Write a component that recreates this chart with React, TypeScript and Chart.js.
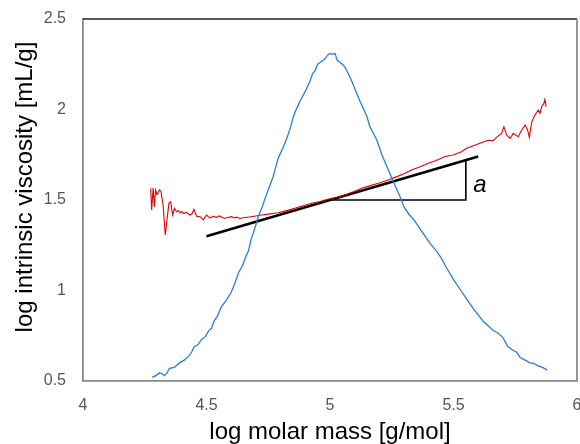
import React, { useEffect, useRef } from "react";
import { Chart, registerables } from "chart.js";
Chart.register(...registerables);

const redX = [4.274, 4.278, 4.284, 4.289, 4.294, 4.3, 4.31, 4.316, 4.325, 4.333, 4.34, 4.348, 4.355, 4.363, 4.37, 4.379, 4.386, 4.393, 4.4, 4.406, 4.42, 4.433, 4.442, 4.449, 4.46, 4.474, 4.487, 4.5, 4.514, 4.527, 4.541, 4.551, 4.561, 4.572, 4.582, 4.602, 4.612, 4.622, 4.636, 4.649, 4.673, 4.7, 4.723, 4.75, 4.79, 4.82, 4.858, 4.89, 4.926, 4.96, 4.99, 5.03, 5.06, 5.095, 5.128, 5.16, 5.196, 5.23, 5.263, 5.3, 5.33, 5.365, 5.398, 5.43, 5.466, 5.498, 5.533, 5.553, 5.58, 5.607, 5.64, 5.66, 5.68, 5.695, 5.704, 5.715, 5.729, 5.742, 5.762, 5.776, 5.79, 5.8, 5.807, 5.817, 5.83, 5.843, 5.85, 5.857, 5.866, 5.87, 5.875];
const redY = [1.565, 1.445, 1.566, 1.463, 1.555, 1.53, 1.555, 1.546, 1.463, 1.307, 1.39, 1.483, 1.49, 1.417, 1.454, 1.435, 1.442, 1.428, 1.437, 1.426, 1.43, 1.417, 1.425, 1.449, 1.41, 1.408, 1.39, 1.417, 1.4, 1.41, 1.404, 1.412, 1.406, 1.398, 1.402, 1.408, 1.401, 1.405, 1.398, 1.402, 1.406, 1.412, 1.417, 1.422, 1.43, 1.44, 1.454, 1.468, 1.482, 1.492, 1.504, 1.515, 1.528, 1.545, 1.565, 1.578, 1.592, 1.608, 1.625, 1.645, 1.666, 1.684, 1.703, 1.718, 1.74, 1.749, 1.767, 1.786, 1.8, 1.813, 1.83, 1.828, 1.853, 1.868, 1.905, 1.859, 1.84, 1.868, 1.85, 1.887, 1.914, 1.887, 1.846, 1.933, 1.97, 1.997, 1.979, 2.015, 2.034, 2.056, 2.015];

const blueX = [4.28, 4.295, 4.31, 4.32, 4.33, 4.34, 4.35, 4.37, 4.39, 4.41, 4.43, 4.44, 4.45, 4.465, 4.48, 4.495, 4.51, 4.52, 4.53, 4.545, 4.56, 4.58, 4.6, 4.615, 4.63, 4.645, 4.66, 4.67, 4.68, 4.695, 4.71, 4.725, 4.74, 4.755, 4.77, 4.78, 4.79, 4.81, 4.825, 4.84, 4.85, 4.86, 4.87, 4.88, 4.9, 4.92, 4.93, 4.94, 4.95, 4.965, 4.98, 4.99, 5.0, 5.01, 5.02, 5.03, 5.05, 5.06, 5.07, 5.09, 5.105, 5.12, 5.14, 5.15, 5.16, 5.175, 5.19, 5.21, 5.235, 5.26, 5.28, 5.3, 5.32, 5.34, 5.36, 5.38, 5.405, 5.43, 5.45, 5.47, 5.5, 5.53, 5.555, 5.58, 5.6, 5.62, 5.64, 5.66, 5.68, 5.7, 5.71, 5.72, 5.74, 5.755, 5.77, 5.79, 5.81, 5.825, 5.84, 5.86, 5.88];
const blueY = [0.52, 0.53, 0.545, 0.54, 0.53, 0.545, 0.57, 0.575, 0.6, 0.615, 0.64, 0.66, 0.69, 0.7, 0.73, 0.745, 0.78, 0.79, 0.83, 0.86, 0.91, 0.945, 0.99, 1.04, 1.1, 1.135, 1.19, 1.22, 1.28, 1.34, 1.41, 1.46, 1.52, 1.575, 1.63, 1.68, 1.73, 1.79, 1.84, 1.9, 1.955, 1.99, 2.02, 2.05, 2.1, 2.16, 2.2, 2.215, 2.25, 2.265, 2.28, 2.3, 2.31, 2.305, 2.31, 2.27, 2.25, 2.235, 2.21, 2.15, 2.1, 2.05, 1.99, 1.96, 1.91, 1.87, 1.83, 1.75, 1.67, 1.59, 1.53, 1.46, 1.42, 1.39, 1.35, 1.31, 1.26, 1.22, 1.18, 1.13, 1.06, 1.0, 0.95, 0.9, 0.865, 0.83, 0.805, 0.78, 0.765, 0.74, 0.715, 0.69, 0.67, 0.66, 0.63, 0.615, 0.6, 0.598, 0.585, 0.575, 0.56];

const fitX = [4.5, 5.6];
const fitY = [1.3, 1.74];
const triX = [5.0, 5.55, 5.55];
const triY = [1.5, 1.5, 1.72];
const labelA = { x: 5.607, y: 1.583, text: "a" };

const xTitle = "log molar mass [g/mol]";
const yTitle = "log intrinsic viscosity [mL/g]";

const FONT = "'Liberation Sans', Arial, Helvetica, sans-serif";

const zip = (xs: number[], ys: number[]) => xs.map((x, i) => ({ x, y: ys[i] }));

export default function App() {
  const ref = useRef<HTMLCanvasElement | null>(null);
  useEffect(() => {
    if (!ref.current) return;
    const deco = {
      id: "deco",
      beforeDatasetsDraw(chart: any) {
        const { ctx, chartArea: a } = chart;
        ctx.save();
        ctx.strokeStyle = "#222";
        ctx.lineWidth = 1.3;
        ctx.beginPath();
        ctx.moveTo(a.left, a.top);
        ctx.lineTo(a.right, a.top);
        ctx.stroke();
        ctx.strokeStyle = "#8a8a8a";
        ctx.lineWidth = 1.8;
        ctx.beginPath();
        ctx.moveTo(a.right, a.top);
        ctx.lineTo(a.right, a.bottom);
        ctx.stroke();
        ctx.restore();
      },
      afterDraw(chart: any) {
        const { ctx, scales } = chart;
        ctx.save();
        ctx.fillStyle = "#000";
        ctx.font = `24px ${FONT}`;
        ctx.textAlign = "center";
        ctx.textBaseline = "middle";
        ctx.fillText(xTitle, 330, 432);
        ctx.translate(25, 187);
        ctx.rotate(-Math.PI / 2);
        ctx.fillText(yTitle, 0, 0);
        ctx.restore();
        ctx.save();
        ctx.fillStyle = "#000";
        ctx.font = `italic 24px ${FONT}`;
        ctx.textAlign = "center";
        ctx.textBaseline = "middle";
        ctx.fillText(labelA.text, scales.x.getPixelForValue(labelA.x), scales.y.getPixelForValue(labelA.y));
        ctx.restore();
      },
    };
    const chart = new Chart(ref.current, {
      type: "scatter",
      data: {
        datasets: [
          { data: zip(blueX, blueY), showLine: true, borderColor: "#2a7dd4", borderWidth: 1.3, pointRadius: 0, tension: 0 },
          { data: zip(redX, redY), showLine: true, borderColor: "#e00000", borderWidth: 1.1, pointRadius: 0, tension: 0 },
          { data: zip(fitX, fitY), showLine: true, borderColor: "#000", borderWidth: 2.6, pointRadius: 0, tension: 0 },
          { data: zip(triX, triY), showLine: true, borderColor: "#000", borderWidth: 1.6, pointRadius: 0, tension: 0 },
        ],
      },
      options: {
        responsive: false,
        animation: false,
        devicePixelRatio: 1,
        layout: { padding: { top: 19, right: 3, left: 0, bottom: 0 } },
        plugins: { legend: { display: false }, tooltip: { enabled: false } },
        scales: {
          x: {
            type: "linear",
            min: 4,
            max: 6,
            afterFit: (s: any) => { s.height = 63; s.paddingLeft = 0; s.paddingRight = 0; },
            ticks: { stepSize: 0.5, padding: 15, color: "#555", font: { size: 16, family: FONT }, maxRotation: 0, callback: (v: any) => String(Number(v)) },
            grid: { display: false, drawTicks: false },
            border: { display: true, color: "#8a8a8a", width: 1.8 },
          },
          y: {
            type: "linear",
            min: 0.5,
            max: 2.5,
            afterFit: (s: any) => { s.width = 83; s.paddingTop = 0; s.paddingBottom = 0; },
            ticks: { stepSize: 0.5, padding: 17, color: "#555", font: { size: 16, family: FONT }, callback: (v: any) => String(Number(v)) },
            grid: { display: false, drawTicks: false },
            border: { display: true, color: "#8a8a8a", width: 1.8 },
          },
        },
      },
      plugins: [deco],
    } as any);
    return () => chart.destroy();
  }, []);
  return (
    <div style={{ position: "fixed", left: 0, top: 0, width: 580, height: 444, background: "#fff" }}>
      <canvas ref={ref} width={580} height={444} style={{ width: 580, height: 444 }} />
    </div>
  );
}
